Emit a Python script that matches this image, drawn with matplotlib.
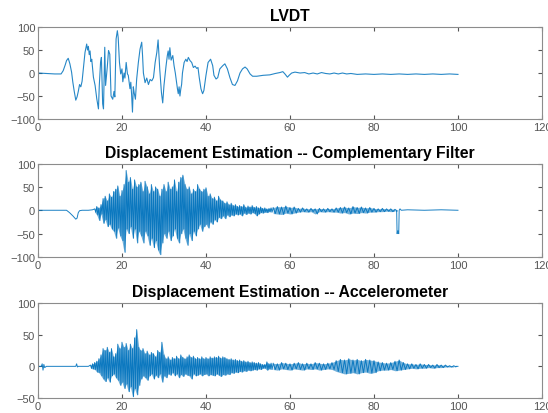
import numpy as np
import matplotlib
matplotlib.use("Agg")
import matplotlib.pyplot as plt

plt.rcParams['font.family'] = ['Liberation Sans', 'DejaVu Sans']

LINE = '#0072BD'

# --- LVDT (time s, displacement) ---
lvdt_pts = [
    (0, 0), (2, -1), (4, -2), (5.5, -2), (6.0, 5), (6.5, 18), (6.8, 27), (7.2, 32), (7.6, 20), (8.0, 2),
    (8.3, -20), (8.6, -38), (9.0, -59), (9.3, -52), (9.6, -40), (9.9, -25), (10.2, -30), (10.5, -18), (10.8, 10), (11.2, 45),
    (11.6, 63), (11.8, 50), (12.0, 58), (12.2, 40), (12.4, 48), (12.6, 25), (12.8, 30), (13.2, -9), (13.6, -27), (14.0, -56),
    (14.4, -78), (14.6, -27), (14.9, 23), (15.1, 34), (15.4, -67), (15.6, -78), (15.9, 56), (16.1, -27), (16.5, 13), (16.8, 49),
    (17.1, 41), (17.4, -50), (17.8, -57), (18.1, -40), (18.3, -52), (18.6, 74), (18.9, 92), (19.1, 77), (19.4, 23), (19.7, -2),
    (20.0, 9), (20.2, -19), (20.5, 0), (20.7, -11), (21.0, 23), (21.3, -2), (21.5, -5), (21.9, -34), (22.1, -20), (22.3, -48),
    (22.5, -85), (22.7, -30), (22.9, -43), (23.2, -57), (23.5, -13), (23.9, 23), (24.3, 52), (24.7, 67), (24.9, 38), (25.1, 0),
    (25.5, -21), (25.9, -11), (26.3, -25), (26.7, -14), (27.1, -17), (27.5, -10), (27.9, 23), (28.3, 45), (28.6, 72), (29.0, 7),
    (29.4, -43), (29.7, -65), (30.0, -27), (30.5, 16), (30.8, 38), (31.0, 48), (31.2, 30), (31.4, 55), (31.7, 28), (32.1, 38),
    (32.4, 16), (32.7, 0), (33.0, -21), (33.2, -34), (33.4, -45), (33.6, -30), (33.8, -50), (34.0, -35), (34.2, -25), (34.4, 0),
    (34.8, 23), (35.2, 30), (35.5, 25), (35.8, 34), (36.2, 27), (36.6, 23), (37.0, 12), (37.4, 15), (37.8, 10), (38.1, 12),
    (38.4, -10), (38.8, -34), (39.0, -40), (39.2, -45), (39.5, -38), (40.0, -5), (40.5, 23), (41.1, 30), (41.6, 16), (41.9, -5),
    (42.4, -13), (42.8, -10), (43.3, 9), (44.0, 16), (44.5, 20), (45.1, 9), (45.7, -10), (46.3, -25), (46.9, -27), (47.5, -17),
    (48.1, 0), (48.7, 9), (49.3, 13), (49.8, 9), (50.5, -2), (51.1, -7), (52.1, -7), (53.6, -5), (55.2, -4), (56.5, -1),
    (57.6, 1), (58.3, 3), (58.8, -2), (59.4, -9), (59.8, -5), (60.4, 0), (61.2, 2), (62.4, 0), (63.5, 1), (64.5, -2),
    (65.5, 0), (66.5, -2), (67.5, 1), (68.5, -1), (69.5, -2), (70.5, 0), (71.5, -2), (72.5, 0), (73.5, -2), (74.5, -1),
    (76, -3), (78, -2), (80, -3), (82, -2), (84, -3), (86, -2), (88, -3), (90, -2), (92, -3), (94, -2),
    (96, -3), (98, -2), (100, -3),
]

# --- Complementary filter: quiet start, noisy band (peak/trough per step), tail ---
cf_pre_t = [0, 6.8, 7.5, 8.3, 9.0, 9.3, 9.6, 9.9, 10.5, 12.0, 13.0]
cf_pre_y = [0, 0, -5, -12, -19, -17, -5, -1, 0, 0, 1]
cf_hi_a = [3, 8, 5, 12, 25, 30, 20, 35, 28, 40, 45, 52, 30, 42, 55, 85, 60, 70, 45, 65,
           50, 55, 60, 40, 62, 50, 35, 55, 40, 50, 45, 30, 45, 55, 40, 60, 45, 50, 65, 40,
           60, 70, 75, 55, 45, 50, 35, 45, 40, 55, 45, 40, 45, 48, 30, 35, 25, 28, 20, 30,
           22, 20, 15, 18, 12, 15, 10, 12, 8, 10, 8, 12, 6, 9, 7, 10, 6, 8, 5, 7,
           4, 5, 3, 4, 5]
cf_lo_a = [-4, -10, -22, -8, -28, -20, -35, -30, -40, -45, -60, -38, -55, -65, -90, -40, -50, -35, -60, -40,
           -70, -45, -55, -70, -45, -55, -75, -60, -80, -65, -85, -95, -70, -50, -60, -45, -65, -55, -40, -60,
           -70, -50, -40, -60, -75, -50, -65, -45, -55, -40, -30, -45, -35, -30, -38, -25, -30, -20, -25, -15,
           -18, -12, -18, -10, -14, -10, -12, -8, -10, -8, -12, -6, -9, -6, -8, -5, -7, -12, -8, -5,
           -6, -4, -5, -3, -4]
cf_hi_b = [6, 8, 7, 9, 6, 7, 4, 5, 3, 4, 3, 4, 3, 4, 3, 5, 6, 7, 5, 8,
           6, 7, 5, 6, 4, 3, 4, 3, 3, 2]
cf_lo_b = [-7, -8, -9, -6, -8, -6, -4, -3, -4, -3, -8, -3, -4, -3, -4, -4, -6, -5, -8, -6,
           -7, -5, -6, -4, -4, -3, -3, -2, -3, -2]
cf_post_t = [85.4, 85.5, 85.7, 85.9, 86.0, 86.2, 86.5, 88, 92, 96, 100]
cf_post_y = [0, -50, -44, -50, 0, 3, 0, 1, 0, 1, 0]

# --- Accelerometer ---
acc_pre_t = [0, 0.8, 1.0, 1.2, 1.4, 1.6, 2.0, 9.0, 9.2, 9.4, 9.6, 12.0]
acc_pre_y = [0, 0, 4, -6, 3, -2, 0, 0, 4, -1, 0, 0]
acc_hi_a = [2, 4, 6, 8, 12, 18, 28, 25, 30, 22, 28, 15, 20, 35, 28, 38, 30, 36, 25, 35,
            28, 45, 58, 30, 25, 28, 20, 24, 18, 22, 20, 15, 25, 22, 38, 18, 12, 15, 10, 14,
            12, 16, 12, 18, 14, 12, 15, 18, 14, 16, 12, 14, 12, 15, 12, 14, 12, 15, 13, 15,
            14, 16, 13, 15, 14, 12, 11, 12, 10, 11, 9, 10, 8, 9, 7, 8, 6, 7, 6, 5,
            6, 4, 3, 3, 7, 4, 5]
acc_lo_a = [-3, -4, -5, -9, -10, -15, -20, -24, -18, -25, -15, -12, -18, -22, -30, -25, -35, -28, -40, -32,
            -48, -35, -45, -30, -20, -15, -18, -22, -15, -12, -20, -14, -18, -12, -25, -15, -18, -12, -14, -10,
            -15, -12, -18, -13, -16, -12, -14, -15, -20, -12, -15, -14, -12, -15, -13, -12, -15, -13, -14, -15,
            -12, -14, -16, -13, -14, -12, -13, -10, -11, -9, -10, -8, -9, -7, -8, -6, -7, -6, -5, -6,
            -4, -5, -3, -3, -6, -4, -5]
acc_hi_b = [5, 4, 6, 5, 4, 5, 6, 4, 5, 4, 6, 5, 4, 5, 6, 9, 11, 10, 12, 10,
            11, 9, 11, 10, 9, 7, 6, 5, 6, 8, 10, 6, 4, 4, 3, 4, 3, 3, 2, 3,
            2, 2, 1, 1]
acc_lo_b = [-5, -6, -4, -5, -6, -4, -5, -6, -4, -5, -4, -6, -5, -4, -5, -8, -10, -12, -11, -10,
            -12, -10, -9, -11, -10, -7, -6, -6, -5, -7, -6, -5, -4, -3, -4, -3, -3, -2, -3, -2,
            -2, -1, -1, -1]
acc_post_t = [99.5, 100]
acc_post_y = [0, 0]


def band(ax, start, step, hi, lo):
    # peak at t, trough half a step later; light fill between them
    t_hi = start + step * np.arange(len(hi))
    ax.fill_between(t_hi, lo, hi, color=LINE, alpha=0.55, lw=0)
    tt = np.column_stack([t_hi, t_hi + step / 2]).ravel()
    yy = np.column_stack([hi, lo]).ravel()
    return tt, yy


def style(ax, title, ylim, yticks):
    ax.set_xlim(0, 120)
    ax.set_ylim(*ylim)
    ax.set_xticks(range(0, 121, 20))
    ax.set_yticks(yticks)
    ax.tick_params(direction='in', length=3, width=0.8, top=True, right=True,
                   labelsize=8, colors='#555555', pad=2)
    for s in ax.spines.values():
        s.set_color('#8c8c8c')
        s.set_linewidth(0.8)
    ax.set_title(title, fontsize=11.3, fontweight='bold', pad=5)


fig = plt.figure(figsize=(5.48, 4.14), dpi=100)
ax1 = fig.add_axes([0.0693, 0.7101, 0.9197, 0.2222])
ax2 = fig.add_axes([0.0693, 0.3768, 0.9197, 0.2258])
ax3 = fig.add_axes([0.0693, 0.0362, 0.9197, 0.2295])

lt, ly = zip(*lvdt_pts)
ax1.plot(lt, ly, color=LINE, lw=0.8, alpha=0.85)
style(ax1, 'LVDT', (-100, 100), [-100, -50, 0, 50, 100])

ta, ya = band(ax2, 13.5, 0.5, cf_hi_a, cf_lo_a)
tb, yb = band(ax2, 56, 1.0, cf_hi_b, cf_lo_b)
t2 = np.concatenate([cf_pre_t, ta, tb, cf_post_t])
y2 = np.concatenate([cf_pre_y, ya, yb, cf_post_y])
ax2.plot(t2, y2, color=LINE, lw=0.7, alpha=0.9)
style(ax2, 'Displacement Estimation -- Complementary Filter', (-100, 100), [-100, -50, 0, 50, 100])

ta, ya = band(ax3, 12.5, 0.5, acc_hi_a, acc_lo_a)
tb, yb = band(ax3, 56, 1.0, acc_hi_b, acc_lo_b)
t3 = np.concatenate([acc_pre_t, ta, tb, acc_post_t])
y3 = np.concatenate([acc_pre_y, ya, yb, acc_post_y])
ax3.plot(t3, y3, color=LINE, lw=0.7, alpha=0.9)
style(ax3, 'Displacement Estimation -- Accelerometer', (-50, 100), [-50, 0, 50, 100])

fig.savefig('out.png', dpi=100)
